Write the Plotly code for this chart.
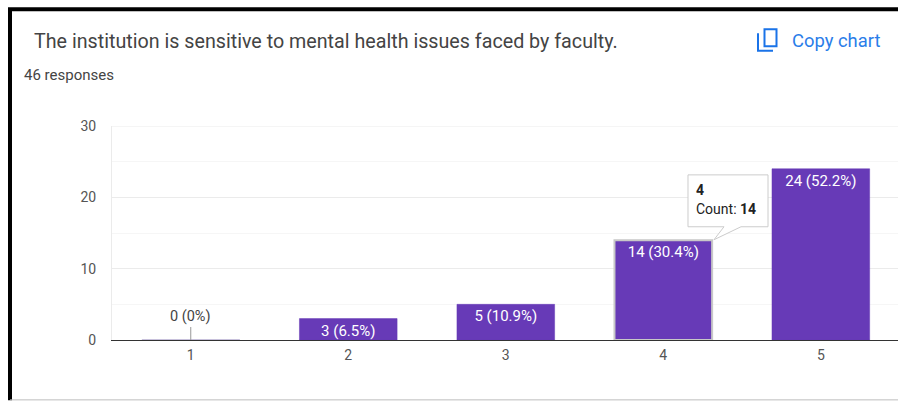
"""Google Forms style response chart: one question, counts per rating."""

import plotly.graph_objects as go

QUESTION = "The institution is sensitive to mental health issues faced by faculty."
RESPONSES = "46 responses"
RATINGS = [1, 2, 3, 4, 5]
COUNTS = [0, 3, 5, 14, 24]
LABELS = ["0 (0%)", "3 (6.5%)", "5 (10.9%)", "14 (30.4%)", "24 (52.2%)"]
MAJOR_TICKS = [0, 10, 20, 30]
MINOR_TICKS = [5, 15, 25]

WIDTH, HEIGHT = 898, 401
PLOT_L, PLOT_T, PLOT_B = 112, 126, 340.5

_PURPLE = "#673ab7"
_BLUE = "#1a73e8"
_FONT = "Roboto, Arial, sans-serif"
_LABEL_SIZE = 15


def px(x):
    return (x - PLOT_L) / (WIDTH - PLOT_L)


def py(y):
    return (PLOT_B - y) / (PLOT_B - PLOT_T)


def page_path(d_points, **kwargs):
    """Closed or open path from pixel coordinates, in paper space."""
    closed = kwargs.pop("closed", False)
    d = "M " + " L ".join(f"{px(x):.5f},{py(y):.5f}" for x, y in d_points)
    if closed:
        d += " Z"
    return {"type": "path", "xref": "paper", "yref": "paper", "path": d, **kwargs}


def page_text(x, y, text, size, color, anchor="left"):
    return {
        "x": px(x),
        "y": py(y),
        "xref": "paper",
        "yref": "paper",
        "text": text,
        "showarrow": False,
        "xanchor": anchor,
        "yanchor": "middle",
        "align": "left",
        "font": {"family": _FONT, "size": size, "color": color},
    }


fig = go.Figure()

# one highlighted bar (the hovered one) gets the grey outline
outline_color = ["#c8c8c8" if r == 4 else _PURPLE for r in RATINGS]
outline_width = [2 if r == 4 else 0.5 for r in RATINGS]

fig.add_trace(
    go.Bar(
        x=RATINGS,
        y=COUNTS,
        width=0.62,
        text=["" if c == 0 else t for c, t in zip(COUNTS, LABELS)],
        textposition="inside",
        insidetextanchor="end",
        constraintext="none",
        textangle=0,
        textfont={"family": _FONT, "size": _LABEL_SIZE, "color": "#ffffff"},
        marker={"color": _PURPLE, "line": {"color": outline_color, "width": outline_width}},
        hoverinfo="skip",
    )
)

fig.update_layout(
    width=WIDTH,
    height=HEIGHT,
    autosize=False,
    showlegend=False,
    margin={"l": PLOT_L, "r": 0, "t": PLOT_T, "b": HEIGHT - PLOT_B, "pad": 0},
    paper_bgcolor="#ffffff",
    plot_bgcolor="#ffffff",
    font={"family": _FONT, "size": 14, "color": "#444444"},
    xaxis={
        "range": [0.5, 5.49],
        "tickvals": RATINGS,
        # white ticks only push the labels away from the axis
        "ticks": "outside",
        "ticklen": 2,
        "tickcolor": "#ffffff",
        "showgrid": False,
        "zeroline": False,
        "showline": True,
        "linecolor": "#333333",
        "linewidth": 1,
        "tickfont": {"family": _FONT, "size": 14, "color": "#555555"},
    },
    yaxis={
        "range": [0, 30],
        "tickvals": MAJOR_TICKS,
        "ticks": "outside",
        "ticklen": 12,
        "tickcolor": "#ffffff",
        "showgrid": True,
        "gridcolor": "#ebebeb",
        "gridwidth": 1,
        "zeroline": False,
        "showline": True,
        "linecolor": "#ebebeb",
        "linewidth": 1,
        "tickfont": {"family": _FONT, "size": 14, "color": "#555555"},
        "minor": {"tickvals": MINOR_TICKS, "showgrid": True, "gridcolor": "#f6f6f6", "gridwidth": 1},
    },
)

# label of the empty bar, with its leader line
zero_idx = COUNTS.index(0)
fig.add_annotation(
    x=RATINGS[zero_idx],
    y=COUNTS[zero_idx],
    text=LABELS[zero_idx],
    showarrow=True,
    arrowhead=0,
    arrowwidth=1,
    arrowcolor="#999999",
    ax=0,
    ay=-13,
    standoff=0,
    yanchor="bottom",
    font={"family": _FONT, "size": 14.5, "color": "#444444"},
)

shapes = [
    # faint baseline of the empty bar
    {
        "type": "line",
        "xref": "x",
        "yref": "y",
        "x0": RATINGS[zero_idx] - 0.31,
        "x1": RATINGS[zero_idx] + 0.31,
        "y0": 0.06,
        "y1": 0.06,
        "line": {"color": "#c9c3dc", "width": 1},
    },
    # plotly drops the gridline at the top of the range, so draw it here
    {
        "type": "line",
        "xref": "paper",
        "yref": "y",
        "x0": 0,
        "x1": 1,
        "y0": MAJOR_TICKS[-1],
        "y1": MAJOR_TICKS[-1],
        "line": {"color": "#ebebeb", "width": 1},
    },
    # screenshot frame
    page_path([(10, 401), (10, 9), (898, 9)], line={"color": "#000000", "width": 4}),
    page_path([(10, 400.5), (898, 400.5)], line={"color": "#bdbdbd", "width": 1}),
    # copy icon
    page_path(
        [(764.5, 29), (776.5, 29), (776.5, 46), (764.5, 46)],
        closed=True,
        line={"color": _BLUE, "width": 2},
    ),
    page_path([(758, 33), (758, 50.5), (773, 50.5)], line={"color": _BLUE, "width": 2}),
    # tooltip pointer and box
    page_path(
        [(688, 175), (768, 175), (768, 227), (741, 227), (714, 240), (724, 227), (688, 227)],
        closed=True,
        fillcolor="#ffffff",
        line={"color": "#cccccc", "width": 1},
        layer="above",
    ),
]
fig.update_layout(shapes=shapes)

fig.add_annotation(**page_text(31.5, 41, QUESTION, 19.7, "#444444"))
fig.add_annotation(**page_text(22, 75, RESPONSES, 15, "#444444"))
fig.add_annotation(**page_text(790, 40, "Copy chart", 18.4, "#2a7de9"))
fig.add_annotation(**page_text(694, 190, "<b>4</b>", 14, "#222222"))
fig.add_annotation(**page_text(694, 209, "Count: <b>14</b>", 14, "#222222"))

# page default body margin would shift the figure by 8px
fig.write_html(
    "out.html",
    config={"displayModeBar": False},
    post_script="document.body.style.margin='0';",
)
